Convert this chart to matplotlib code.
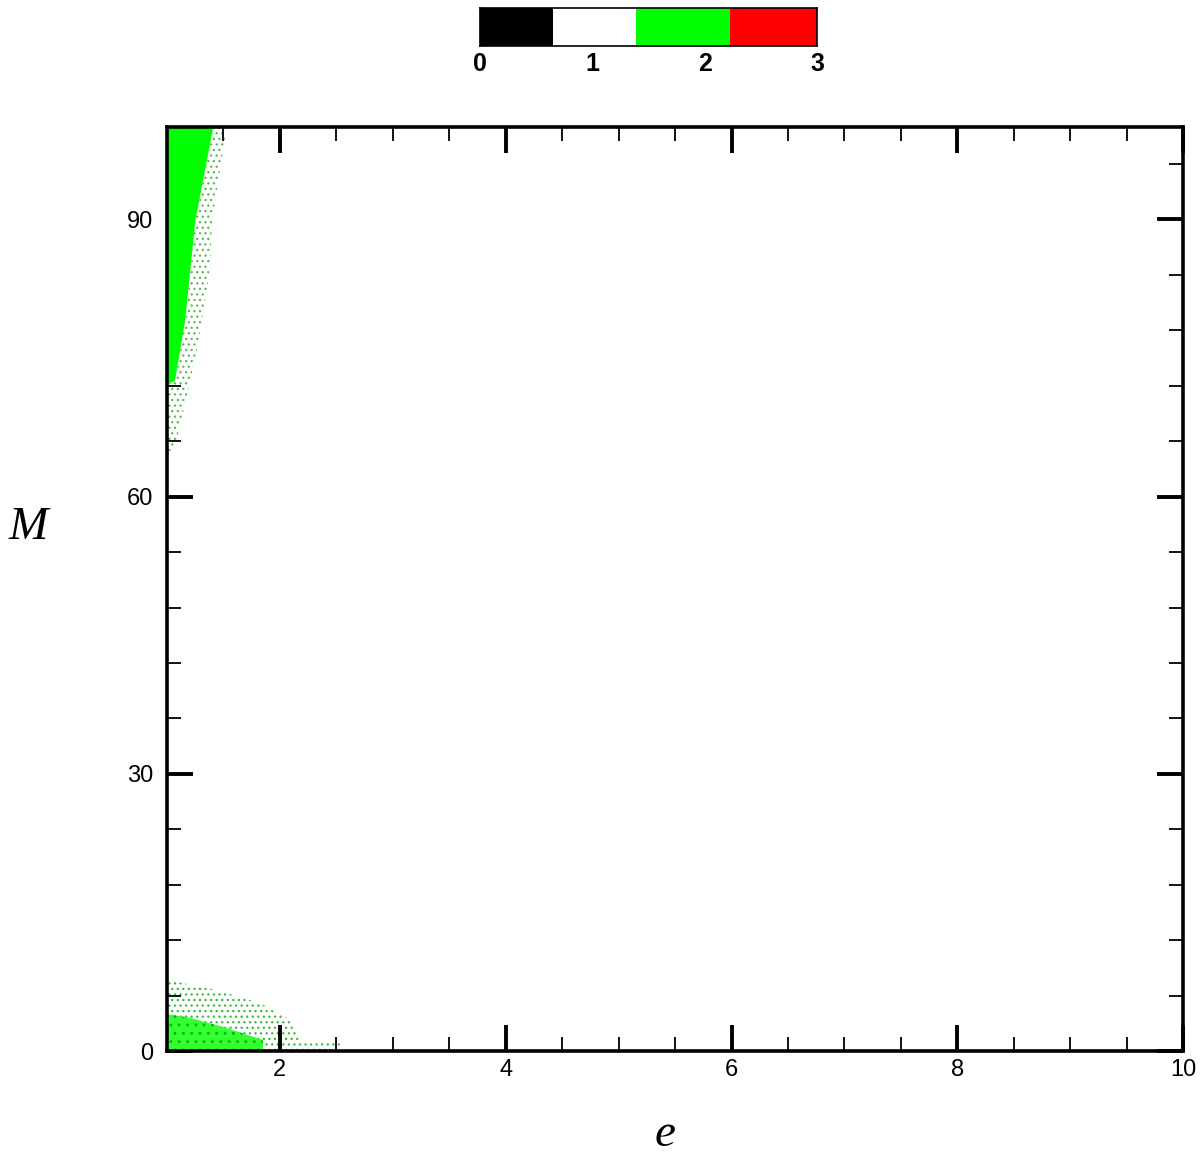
import matplotlib
matplotlib.use("Agg")
import matplotlib.pyplot as plt
import numpy as np
from matplotlib.ticker import MultipleLocator

# colour legend (bar at top)
bar_levels = [0, 0.65, 1.39, 2.23, 3]
bar_colors = ['#000000', '#ffffff', '#00ff00', '#ff0000']
bar_ticks = [0, 1, 2, 3]

# upper green wedge: solid part, edge x at each M
wedge_M = [100, 89.8, 79, 72.5, 72.2]
wedge_e = [1.41, 1.25, 1.16, 1.07, 1.0]
# upper wedge dotted fringe
fringe_M = [100, 90, 84.4, 75.5, 65.3, 64]
fringe_e = [1.53, 1.40, 1.38, 1.26, 1.07, 1.0]

# lower region, dense part and dotted outer part
low_dense_e = [1.0, 1.0, 1.2, 1.5, 1.85, 1.85]
low_dense_M = [0, 4.0, 3.6, 2.6, 1.2, 0]
low_dots_e = [1.0, 1.0, 1.44, 1.82, 2.09, 2.18, 2.53, 2.53]
low_dots_M = [0, 7.7, 6.6, 5.2, 3.4, 1.2, 0.9, 0]

plt.rcParams['hatch.linewidth'] = 0.9

fig = plt.figure(figsize=(12, 11.57), dpi=100)
ax = fig.add_axes([0.1392, 0.0916, 0.8467, 0.7986])

# solid wedge
ax.fill(list(wedge_e) + [1.0], list(wedge_M) + [100], color='#00ff00', lw=0, zorder=2)
# fringe dots between wedge and fringe edge
poly_e = list(fringe_e) + list(wedge_e[::-1])
poly_M = list(fringe_M) + list(wedge_M[::-1])
ax.fill(poly_e, poly_M, facecolor='none', edgecolor='#55bb55', hatch='...', lw=0, zorder=1)

# lower region
ax.fill(low_dots_e, low_dots_M, facecolor='none', edgecolor='#33bb33', hatch='...', lw=0, zorder=1)
ax.fill(low_dense_e, low_dense_M, facecolor='#33ff33', edgecolor='#00bb00', hatch='..', lw=0, zorder=2)

ax.set_xlim(1, 10)
ax.set_ylim(0, 100)
ax.set_xticks([2, 4, 6, 8, 10])
ax.set_yticks([0, 30, 60, 90])
ax.xaxis.set_minor_locator(MultipleLocator(0.5))
ax.yaxis.set_minor_locator(MultipleLocator(6))
ax.tick_params(which='major', direction='in', length=19, width=2.8,
               top=True, right=True, labelsize=17)
ax.tick_params(axis='x', which='major', pad=6)
ax.tick_params(axis='y', which='major', pad=10)
ax.tick_params(which='minor', direction='in', length=10, width=1.3,
               top=True, right=True)
for lab in ax.get_xticklabels() + ax.get_yticklabels():
    lab.set_family('Liberation Sans')
for s in ax.spines.values():
    s.set_linewidth(2.6)

fig.text(665 / 1200, 1 - 1135 / 1157, 'e', fontsize=34, family='Liberation Serif',
         style='italic', ha='center', va='center')
fig.text(28 / 1200, 1 - 528 / 1157, 'M', fontsize=34, family='Liberation Serif',
         style='italic', ha='center', va='center')

# colour bar at top
cax = fig.add_axes([0.4, 0.9602, 0.2808, 0.0328])
for i in range(len(bar_colors)):
    cax.axvspan(bar_levels[i], bar_levels[i + 1], color=bar_colors[i], lw=0)
cax.set_xlim(0, 3)
cax.set_ylim(0, 1)
cax.set_yticks([])
cax.set_xticks(bar_ticks)
cax.set_xticklabels([str(t) for t in bar_ticks], fontsize=18, fontweight='bold',
                    family='Liberation Sans')
cax.tick_params(length=0, pad=4)
for s in cax.spines.values():
    s.set_linewidth(1.2)

fig.savefig('out.png', dpi=100)
